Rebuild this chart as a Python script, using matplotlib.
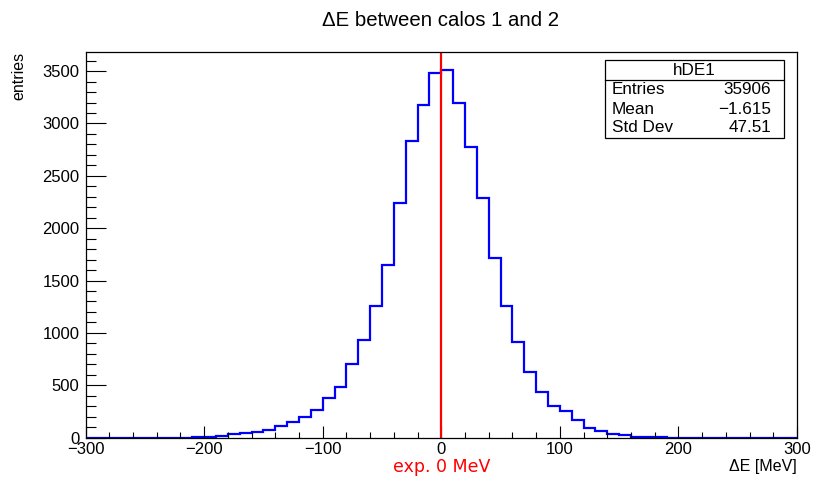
import numpy as np
import matplotlib
matplotlib.use('Agg')
import matplotlib.pyplot as plt
from matplotlib.ticker import MultipleLocator
from matplotlib.patches import Rectangle

plt.rcParams['font.family'] = ['Liberation Sans', 'DejaVu Sans']

# histogram hDE1: 60 bins of 10 MeV from -300 to 300
bin_edges = np.arange(-300, 301, 10)
counts = [0, 0, 0, 0, 0, 0, 0, 0, 0, 5,
          10, 20, 30, 40, 50, 75, 115, 145, 200, 260,
          380, 485, 700, 935, 1255, 1650, 2240, 2830, 3180, 3480,
          3510, 3195, 2780, 2290, 1720, 1255, 910, 625, 435, 300,
          255, 170, 90, 65, 35, 25, 10, 10, 3, 0,
          0, 0, 0, 0, 0, 0, 0, 0, 0, 0]

stat_names = ['Entries', 'Mean', 'Std Dev']
stat_values = ['35906', '\u22121.615', '47.51']
hist_name = 'hDE1'
expected = 0

W, H = 813, 480
fig = plt.figure(figsize=(W / 100, H / 100), dpi=100)
x0, x1, y0, y1 = 85.5, 797, 51.7, 437.6
ax = fig.add_axes([x0 / W, 1 - y1 / H, (x1 - x0) / W, (y1 - y0) / H])

ax.stairs(counts, bin_edges, color='#0000ff', linewidth=1.6)
ax.axvline(expected, color='#ff0000', linewidth=1.6)

ax.set_xlim(-300, 300)
ax.set_ylim(0, 1.05 * max(counts))

ax.xaxis.set_major_locator(MultipleLocator(100))
ax.xaxis.set_minor_locator(MultipleLocator(20))
ax.yaxis.set_major_locator(MultipleLocator(500))
ax.yaxis.set_minor_locator(MultipleLocator(100))
ax.tick_params(axis='both', which='both', direction='in', top=False, right=False,
               labelsize=12, width=0.8)
ax.tick_params(axis='y', which='major', length=14.5, pad=4.5)
ax.tick_params(axis='y', which='minor', length=7.2)
ax.tick_params(axis='x', which='major', length=8.6, pad=3)
ax.tick_params(axis='x', which='minor', length=4)
for sp in ax.spines.values():
    sp.set_linewidth(0.9)

# title and axis titles (ROOT style)
fig.text(440.5 / W, 1 - 20 / H, '\u0394E between calos 1 and 2', ha='center', va='center',
         fontsize=14.7)
fig.text(19 / W, 1 - 52 / H, 'entries', ha='center', va='top', rotation=90, fontsize=11.5)
fig.text(797 / W, 1 - 466 / H, '\u0394E [MeV]', ha='right', va='center', fontsize=11.5)
ax.text(expected, -0.077, 'exp. 0 MeV', transform=ax.get_xaxis_transform(), color='#ff0000',
        ha='center', va='center', fontsize=12.5, family=['DejaVu Sans'])

# stats box
bx0, bx1, by0, by1, byh = 605, 784, 60.5, 138, 80
fig.patches.append(Rectangle((bx0 / W, 1 - by1 / H), (bx1 - bx0) / W, (by1 - by0) / H,
                             transform=fig.transFigure, facecolor='white', edgecolor='black',
                             linewidth=0.9, zorder=5))
fig.add_artist(plt.Line2D([bx0 / W, bx1 / W], [1 - byh / H, 1 - byh / H],
                          transform=fig.transFigure, color='black', linewidth=0.9, zorder=6))
fig.text((bx0 + bx1) / 2 / W, 1 - 70.5 / H, hist_name, ha='center', va='center', fontsize=12.3,
         zorder=7)
row_y = [90, 109.5, 128]
for name, val, ry in zip(stat_names, stat_values, row_y):
    fig.text(612 / W, 1 - ry / H, name, ha='left', va='center', fontsize=12.3, zorder=7)
    fig.text(771 / W, 1 - ry / H, val, ha='right', va='center', fontsize=12.3, zorder=7)

fig.savefig('out.png', dpi=100)
